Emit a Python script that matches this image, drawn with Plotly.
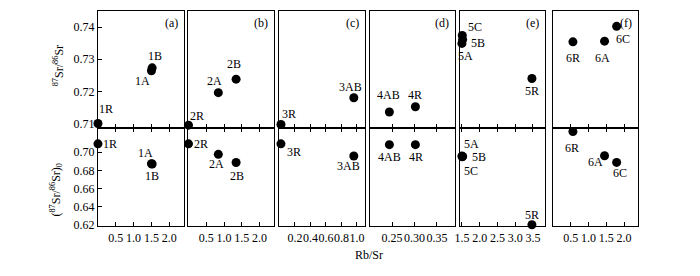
import plotly.graph_objects as go

# ---- data ----
panels = ["(a)", "(b)", "(c)", "(d)", "(e)", "(f)"]
names_a = ["1R", "1A", "1B"]
rbsr_a = [0.0, 1.50, 1.52]
sr_a = [0.7100, 0.7264, 0.7273]
sr0_a = [0.7090, 0.6872, 0.6870]

names_b = ["2R", "2A", "2B"]
rbsr_b = [0.0, 0.84, 1.34]
sr_b = [0.7095, 0.7196, 0.7238]
sr0_b = [0.7090, 0.6975, 0.6886]

names_c = ["3R", "3AB"]
rbsr_c = [0.02, 0.96]
sr_c = [0.7097, 0.7180]
sr0_c = [0.7090, 0.6957]

names_d = ["4AB", "4R"]
rbsr_d = [0.244, 0.302]
sr_d = [0.7136, 0.7152]
sr0_d = [0.7081, 0.7081]

names_e = ["5A", "5B", "5C", "5R"]
rbsr_e = [1.50, 1.52, 1.51, 3.47]
sr_e = [0.7349, 0.7361, 0.7374, 0.7240]
sr0_e = [0.6956, 0.6953, 0.6949, 0.6205]

names_f = ["6R", "6A", "6C"]
rbsr_f = [0.56, 1.45, 1.79]
sr_f = [0.7354, 0.7356, 0.7402]
sr0_f = [0.7225, 0.6960, 0.6887]

xticks_a = [0.5, 1.0, 1.5, 2.0]
xticks_c = [0.2, 0.4, 0.6, 0.8, 1.0]
xticks_d = [0.25, 0.30, 0.35]
xticks_e = [1.5, 2.0, 2.5, 3.0, 3.5]
yticks_top = [0.71, 0.72, 0.73, 0.74]
yticks_bot = [0.62, 0.64, 0.66, 0.68, 0.70]

# ---- styling / layout ----
W, H = 700, 276
OX, OY = 8, 8  # page body margin compensation
FONT = "Liberation Serif"
FS = 12
xpix = [(92.7, 179), (184, 270), (275.7, 361.7), (366.7, 452.7), (458, 544), (551.7, 637.7)]
top_px, mid_px, bot_px = 11, 130.7, 231
xranges = [[0, 2.4], [0, 2.4], [0, 1.1], [0.2, 0.39], [1.45, 3.85], [0, 2.4]]
xtickvals = [xticks_a, xticks_a, xticks_c, xticks_d, xticks_e, xticks_a]
xticktext = [
    ["0.5", "1.0", "1.5", "2.0"], ["0.5", "1.0", "1.5", "2.0"],
    ["0.2", "0.4", "0.6", "0.8", "1.0"], ["0.25", "0.30", "0.35"],
    ["1.5", "2.0", "2.5", "3.0", "3.5"], ["0.5", "1.0", "1.5", "2.0"],
]
yr_top = [0.7086, 0.745]
yr_bot = [0.619, 0.7263]

data = [
    (names_a, rbsr_a, sr_a, sr0_a),
    (names_b, rbsr_b, sr_b, sr0_b),
    (names_c, rbsr_c, sr_c, sr0_c),
    (names_d, rbsr_d, sr_d, sr0_d),
    (names_e, rbsr_e, sr_e, sr0_e),
    (names_f, rbsr_f, sr_f, sr0_f),
]
# label offsets in px (dx right, dy up) from the marker
off_top = [
    [(8, 15), (-9, -10), (3, 12)],
    [(9, 9), (-4, 12), (-2, 15)],
    [(8, 10), (-3, 11)],
    [(-1, 17), (0, 12)],
    [(4, -13), (15, -3), (13, 8), (0, -13)],
    [(0, -16), (-2, -17), (6, -13)],
]
off_bot = [
    [(12, 0), (-6, 11), (0, -12)],
    [(13, 0), (-2, -10), (1, -13)],
    [(13, -8), (-5, -10)],
    [(0, -12), (1, -12)],
    [(10, 12), (16, -1), (9, -14), (0, 10)],
    [(-1, -16), (-9, -6), (3, -11)],
]

fig = go.Figure()
layout = dict(
    width=W, height=H, margin=dict(l=0, r=0, t=0, b=0),
    paper_bgcolor="white", plot_bgcolor="white", showlegend=False,
    font=dict(family=FONT, size=FS, color="black"),
)

def px_(p):
    return (p - OX) / W

def py(p):
    return 1 - (p - OY) / H

annotations = []
for i in range(6):
    xa_top = 2 * i + 1
    xa_bot = 2 * i + 2
    names, xs, ys, ys0 = data[i]
    dom = [px_(xpix[i][0]), px_(xpix[i][1])]
    for k, (yy, yr, offs, ticks) in enumerate([
        (ys, yr_top, off_top[i], yticks_top),
        (ys0, yr_bot, off_bot[i], yticks_bot),
    ]):
        n = xa_top if k == 0 else xa_bot
        fig.add_trace(go.Scatter(
            x=xs, y=yy, mode="markers",
            marker=dict(size=9, color="black"), cliponaxis=False,
            xaxis=f"x{n}", yaxis=f"y{n}", hoverinfo="skip",
        ))
        for nm, xv, yv, (dx, dy) in zip(names, xs, yy, offs):
            annotations.append(dict(
                text=nm, xref=f"x{n}", yref=f"y{n}", x=xv, y=yv,
                xshift=dx, yshift=dy, xanchor="center", yanchor="middle",
                showarrow=False, font=dict(family=FONT, size=FS, color="black"),
            ))
        ydom = [py(mid_px), py(top_px)] if k == 0 else [py(bot_px), py(mid_px)]
        layout[f"xaxis{n}"] = dict(
            domain=dom, range=xranges[i], anchor=f"y{n}",
            showline=True, linecolor="black", linewidth=1, mirror=("ticks" if k == 1 else True),
            ticks="inside", ticklen=4, tickcolor="black", tickangle=0,
            tickvals=xtickvals[i], ticktext=xticktext[i],
            showticklabels=(k == 1), showgrid=False, zeroline=False,
            tickfont=dict(family=FONT, size=FS, color="black"),
        )
        layout[f"yaxis{n}"] = dict(
            domain=ydom, range=yr, anchor=f"x{n}",
            showline=True, linecolor="black", linewidth=1, mirror=True,
            ticks=("inside" if i == 0 else ""), ticklen=4, tickcolor="black",
            tickvals=ticks, tickformat=".2f",
            showticklabels=(i == 0), showgrid=False, zeroline=False,
            tickfont=dict(family=FONT, size=FS, color="black"),
        )
    annotations.append(dict(
        text=panels[i], xref="paper", yref="paper",
        x=px_(xpix[i][1] - 4), y=py(top_px + 3), xanchor="right", yanchor="top",
        showarrow=False, font=dict(family=FONT, size=FS, color="black"),
    ))

annotations += [
    dict(text="<sup>87</sup>Sr/<sup>86</sup>Sr", xref="paper", yref="paper",
         x=px_(53), y=py(67), textangle=-90, showarrow=False,
         xanchor="center", yanchor="middle",
         font=dict(family=FONT, size=FS, color="black")),
    dict(text="(<sup>87</sup>Sr/<sup>86</sup>Sr)<sub>0</sub>", xref="paper", yref="paper",
         x=px_(51), y=py(194), textangle=-90, showarrow=False,
         xanchor="center", yanchor="middle",
         font=dict(family=FONT, size=FS, color="black")),
    dict(text="Rb/Sr", xref="paper", yref="paper",
         x=px_(366), y=py(260), showarrow=False,
         xanchor="center", yanchor="middle",
         font=dict(family=FONT, size=FS, color="black")),
]
layout["annotations"] = annotations
fig.update_layout(**layout)
fig.write_html("out.html")
